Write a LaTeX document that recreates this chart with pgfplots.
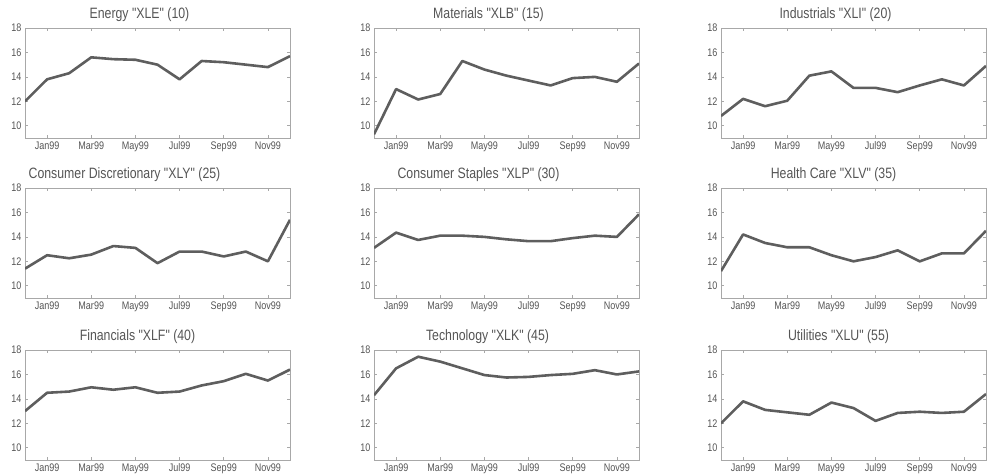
\documentclass[border=0pt]{standalone}
\usepackage{fontspec}
\setmainfont[FakeStretch=0.82]{Liberation Sans}
\newfontfamily\rawfont[FakeStretch=0.82]{Liberation Sans}
\usepackage{pgfplots}
\pgfplotsset{compat=1.18}
\definecolor{txt}{HTML}{555555}
\definecolor{ln}{HTML}{5E5E5E}
\definecolor{fr}{HTML}{A8A8A8}
\pgfplotsset{panel/.style={
 scale only axis, width=265pt, height=110pt,
 xmin=0, xmax=12, ymin=9, ymax=18,
 xtick={1,3,5,7,9,11}, xticklabels={Jan99,Mar99,May99,Jul99,Sep99,Nov99},
 ytick={10,12,14,16,18},
 tick align=inside, major tick length=3pt,
 axis line style={fr, line width=0.8pt},
 tick style={fr, line width=0.6pt},
 tick label style={font=\rawfont\fontsize{11}{12}\selectfont, text=txt},
 /pgf/number format/assume math mode=true,
 title style={font=\rawfont\fontsize{15}{16}\selectfont, text=txt, yshift=-3pt},
 every axis plot post/.append style={draw=ln, line width=2.6pt, line join=round, mark=none},
 anchor=south west,
}}
\begin{document}
\begin{tikzpicture}
\path[use as bounding box] (0pt,0pt) rectangle (987pt,476pt);
% Row 1
\begin{axis}[panel, at={(25pt,338pt)}, title={Energy "XLE" (10)}, title style={xshift=-18pt}]
\addplot coordinates {(0,12.0)(1,13.8)(2,14.3)(3,15.6)(4,15.45)(5,15.4)(6,15.0)(7,13.8)(8,15.3)(9,15.2)(10,15.0)(11,14.8)(12,15.7)};
\end{axis}
\begin{axis}[panel, at={(374pt,338pt)}, title={Materials "XLB" (15)}, title style={xshift=-18pt}]
\addplot coordinates {(0,9.3)(1,13.0)(2,12.15)(3,12.6)(4,15.3)(5,14.6)(6,14.1)(7,13.7)(8,13.3)(9,13.9)(10,14.0)(11,13.6)(12,15.1)};
\end{axis}
\begin{axis}[panel, at={(721pt,338pt)}, title={Industrials "XLI" (20)}, title style={xshift=-18pt}]
\addplot coordinates {(0,10.8)(1,12.2)(2,11.6)(3,12.05)(4,14.1)(5,14.45)(6,13.1)(7,13.1)(8,12.75)(9,13.3)(10,13.8)(11,13.3)(12,14.9)};
\end{axis}
% Row 2
\begin{axis}[panel, at={(25pt,178pt)}, title={Consumer Discretionary "XLY" (25)}, title style={xshift=-33pt}]
\addplot coordinates {(0,11.4)(1,12.5)(2,12.25)(3,12.55)(4,13.25)(5,13.1)(6,11.85)(7,12.8)(8,12.8)(9,12.4)(10,12.8)(11,12.0)(12,15.4)};
\end{axis}
\begin{axis}[panel, at={(374pt,178pt)}, title={Consumer Staples "XLP" (30)}, title style={xshift=-28pt}]
\addplot coordinates {(0,13.1)(1,14.35)(2,13.75)(3,14.1)(4,14.1)(5,14.0)(6,13.8)(7,13.65)(8,13.65)(9,13.9)(10,14.1)(11,14.0)(12,15.85)};
\end{axis}
\begin{axis}[panel, at={(721pt,178pt)}, title={Health Care "XLV" (35)}, title style={xshift=-20pt}]
\addplot coordinates {(0,11.2)(1,14.2)(2,13.5)(3,13.15)(4,13.15)(5,12.5)(6,12.0)(7,12.35)(8,12.9)(9,12.0)(10,12.65)(11,12.65)(12,14.5)};
\end{axis}
% Row 3
\begin{axis}[panel, at={(25pt,16pt)}, title={Financials "XLF" (40)}, title style={xshift=-20pt}]
\addplot coordinates {(0,13.0)(1,14.5)(2,14.6)(3,14.95)(4,14.75)(5,14.95)(6,14.5)(7,14.6)(8,15.1)(9,15.45)(10,16.05)(11,15.5)(12,16.4)};
\end{axis}
\begin{axis}[panel, at={(374pt,16pt)}, title={Technology "XLK" (45)}, title style={xshift=-19pt}]
\addplot coordinates {(0,14.3)(1,16.5)(2,17.45)(3,17.05)(4,16.5)(5,15.95)(6,15.75)(7,15.8)(8,15.95)(9,16.05)(10,16.35)(11,16.0)(12,16.25)};
\end{axis}
\begin{axis}[panel, at={(721pt,16pt)}, title={Utilities "XLU" (55)}, title style={xshift=-15pt}]
\addplot coordinates {(0,12.0)(1,13.8)(2,13.1)(3,12.9)(4,12.7)(5,13.7)(6,13.25)(7,12.2)(8,12.85)(9,12.95)(10,12.85)(11,12.95)(12,14.4)};
\end{axis}
\end{tikzpicture}
\end{document}
